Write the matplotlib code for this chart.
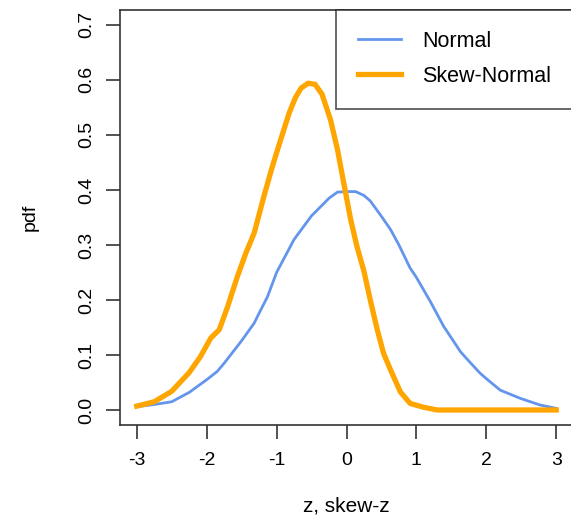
import matplotlib
matplotlib.use('Agg')
import matplotlib.pyplot as plt

plt.rcParams['font.family'] = ['Liberation Sans', 'DejaVu Sans']
plt.rcParams['axes.unicode_minus'] = False

# values
z_normal = [-3.0, -2.75, -2.5, -2.25, -2.0, -1.85, -1.75, -1.5, -1.32, -1.25, -1.13, -1.0,
            -0.75, -0.5, -0.32, -0.25, -0.13, 0.0, 0.13, 0.25, 0.34, 0.5, 0.63, 0.75,
            0.91, 1.0, 1.2, 1.39, 1.5, 1.63, 1.75, 1.91, 2.0, 2.2, 2.49, 2.77, 3.0]
pdf_normal = [0.006, 0.010, 0.015, 0.032, 0.055, 0.070, 0.085, 0.126, 0.158, 0.176, 0.206, 0.250,
              0.310, 0.353, 0.376, 0.385, 0.396, 0.397, 0.397, 0.390, 0.380, 0.352, 0.328, 0.300,
              0.258, 0.241, 0.197, 0.152, 0.131, 0.106, 0.089, 0.067, 0.057, 0.036, 0.021, 0.009, 0.003]

z_skew = [-3.0, -2.75, -2.5, -2.25, -2.09, -1.94, -1.82, -1.70, -1.56, -1.44, -1.32, -1.18,
          -1.06, -0.94, -0.82, -0.73, -0.65, -0.55, -0.45, -0.35, -0.23, -0.13, -0.04, 0.06,
          0.15, 0.25, 0.34, 0.44, 0.53, 0.63, 0.77, 0.91, 1.1, 1.3, 2.0, 3.0]
pdf_skew = [0.007, 0.015, 0.034, 0.068, 0.097, 0.131, 0.146, 0.188, 0.243, 0.285, 0.322, 0.389,
            0.443, 0.492, 0.540, 0.568, 0.585, 0.594, 0.592, 0.574, 0.528, 0.474, 0.413, 0.346,
            0.297, 0.252, 0.200, 0.146, 0.103, 0.073, 0.033, 0.012, 0.005, 0.0, 0.0, 0.0]

fig = plt.figure(figsize=(5.71, 5.25), dpi=100)
ax = fig.add_axes([120 / 571, 1 - 425.4 / 525, 453 / 571, 415.9 / 525])

ax.plot(z_normal, pdf_normal, c='#6495ED', lw=2.0, label='Normal')
ax.plot(z_skew, pdf_skew, c='#FFA500', lw=3.8, label='Skew-Normal')

ax.set_xlim(-3.24, 3.24)
ax.set_ylim(-0.028, 0.728)
ax.set_xticks([-3, -2, -1, 0, 1, 2, 3])
ax.set_yticks([0.0, 0.1, 0.2, 0.3, 0.4, 0.5, 0.6, 0.7])
ax.set_yticklabels(['0.0', '0.1', '0.2', '0.3', '0.4', '0.5', '0.6', '0.7'], rotation=90, va='center')
ax.tick_params(length=10, width=1.2, labelsize=14, color='#333333', pad=8)
ax.tick_params(axis='x', pad=9)
for s in ax.spines.values():
    s.set_linewidth(1.2)
    s.set_color('#333333')

ax.set_xlabel('z, skew-z', fontsize=15, labelpad=20)
ax.set_ylabel('pdf', fontsize=14, labelpad=28)

leg = ax.legend(loc='upper right', bbox_to_anchor=(1.0, 1.0), borderaxespad=0, fontsize=15.5,
                frameon=True, fancybox=False, handlelength=2.0, handletextpad=1.0,
                borderpad=1.0, labelspacing=0.65)
leg.get_frame().set_edgecolor('#222222')
leg.get_frame().set_linewidth(1.2)

fig.savefig('out.png', dpi=100)
